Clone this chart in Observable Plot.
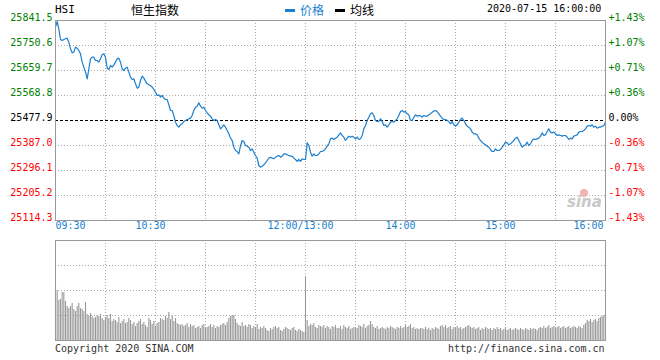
<!DOCTYPE html>
<html><head><meta charset="utf-8">
<script src="https://cdn.jsdelivr.net/npm/d3@7"></script>
<script src="https://cdn.jsdelivr.net/npm/@observablehq/plot@0.6"></script>
<style>
body{margin:0;background:#fff;}
#wrap{position:relative;width:660px;height:360px;overflow:hidden;background:#fff;}
#wrap svg{position:absolute;left:0;}
.t{position:absolute;white-space:nowrap;font-family:'DejaVu Sans Mono',monospace;font-size:10px;line-height:12px;}
.cjk{font-family:'Noto Sans CJK SC',sans-serif;font-size:12px;line-height:14px;}
.bar{position:absolute;width:10px;height:3px;}
</style></head><body><div id="wrap"></div>
<script>
// ---- data ----
const prevClose = 25477.9;
const yTicks = [25114.3, 25205.2, 25296.1, 25387.0, 25477.9, 25568.8, 25659.7, 25750.6, 25841.5];
const pctLabels = ["-1.43%", "-1.07%", "-0.71%", "-0.36%", "0.00%", "+0.36%", "+0.71%", "+1.07%", "+1.43%"];
const gridMinutes = [30, 60, 90, 120, 150, 180, 210, 240, 270, 300];
const xTickMinutes = [0, 60, 150, 210, 270, 330];
const xTickLabels = ["09:30", "10:30", "12:00/13:00", "14:00", "15:00", "16:00"];
// price per trading minute from 09:30 (index 0) to 16:00 (index 330), lunch break skipped
const prices = [
25817.3,25837.9,25811.2,25772.4,25768.8,25772.4,25774.9,25777.3,25762.7,25738.5,
25724.0,25726.4,25744.6,25740.9,25732.4,25720.3,25690.0,25671.8,25653.7,25629.4,
25665.8,25702.1,25708.2,25708.2,25696.1,25696.1,25690.0,25702.1,25716.7,25720.3,
25708.2,25668.2,25663.4,25677.9,25671.8,25680.3,25690.0,25702.1,25704.6,25690.0,
25665.8,25659.7,25668.2,25671.8,25653.7,25635.5,25627.0,25629.4,25611.2,25595.5,
25599.1,25623.4,25639.1,25631.9,25620.9,25611.2,25607.6,25605.2,25599.1,25590.6,
25581.0,25568.8,25571.2,25562.8,25568.8,25559.1,25554.3,25554.3,25534.9,25514.3,
25514.3,25496.1,25471.9,25459.7,25453.7,25462.2,25465.8,25474.3,25477.9,25481.6,
25484.0,25486.4,25496.1,25514.3,25526.4,25530.0,25542.2,25530.0,25522.8,25526.4,
25514.3,25505.8,25498.5,25493.7,25484.0,25477.9,25481.6,25477.9,25462.2,25447.6,
25453.7,25462.2,25453.7,25441.6,25429.4,25413.7,25405.2,25380.9,25368.8,25365.2,
25356.7,25386.0,25405.2,25401.6,25387.0,25384.6,25381.0,25368.9,25374.9,25362.8,
25350.7,25341.0,25314.3,25308.3,25311.9,25316.7,25324.0,25332.5,25341.0,25344.6,
25341.0,25338.6,25344.6,25348.3,25350.7,25344.6,25348.3,25356.7,25356.7,25353.1,
25350.7,25348.3,25348.3,25341.0,25336.1,25328.9,25336.1,25328.9,25338.6,25336.1,
25336.1,25396.7,25387.0,25362.8,25348.3,25356.7,25350.7,25350.7,25356.7,25365.2,
25365.2,25368.9,25374.9,25384.6,25393.1,25411.3,25413.7,25408.9,25413.7,25417.3,
25425.8,25433.1,25423.4,25417.3,25405.2,25413.7,25421.0,25417.3,25421.0,25417.3,
25411.3,25417.3,25408.9,25411.3,25423.4,25447.6,25459.8,25478.0,25490.1,25502.2,
25505.8,25496.1,25478.0,25474.3,25474.3,25484.0,25474.3,25459.8,25462.2,25453.7,
25462.2,25471.9,25474.3,25471.9,25478.0,25484.0,25496.1,25510.7,25514.3,25508.2,
25510.7,25502.2,25498.5,25478.0,25478.0,25490.1,25498.5,25493.7,25496.1,25494.9,
25490.0,25496.1,25493.7,25493.7,25498.5,25502.1,25508.2,25511.8,25514.3,25510.6,
25502.1,25493.7,25486.4,25481.5,25481.5,25477.9,25474.3,25465.8,25474.3,25462.1,
25457.3,25462.1,25471.8,25481.5,25486.4,25477.9,25465.8,25457.3,25453.7,25447.6,
25435.5,25429.4,25429.4,25425.8,25413.7,25405.2,25399.1,25393.1,25389.4,25384.6,
25381.0,25372.5,25365.2,25365.2,25374.9,25368.8,25368.8,25372.5,25381.0,25389.4,
25399.1,25396.7,25389.4,25393.1,25399.1,25405.2,25413.7,25417.3,25405.2,25393.1,
25381.0,25387.0,25389.4,25399.1,25387.0,25393.1,25405.2,25411.2,25408.8,25411.2,
25413.7,25420.9,25433.1,25423.4,25425.8,25437.9,25447.6,25435.5,25433.1,25435.5,
25429.4,25423.4,25425.8,25423.4,25420.9,25423.4,25423.4,25417.3,25408.8,25413.7,
25411.2,25420.9,25423.4,25425.8,25435.5,25437.9,25437.9,25441.5,25447.6,25457.3,
25459.7,25457.3,25462.1,25453.7,25457.3,25450.0,25453.7,25453.7,25457.3,25459.7,
25472.0];
// relative volume per minute (panel scale 0-100)
const volumes = [
54,50,40,41,48,48,39,34,32,34,
37,31,29,34,37,32,31,29,38,26,
24,27,24,22,23,25,24,26,22,20,
23,25,22,26,19,21,20,18,23,17,
19,21,17,18,22,20,16,18,14,17,
19,21,16,18,15,13,22,20,16,19,
14,17,18,22,21,20,24,22,28,21,
25,19,22,17,16,15,16,14,15,17,
13,16,14,15,12,13,14,12,15,16,
12,13,14,16,13,15,12,14,13,15,
16,17,15,18,22,24,25,25,21,17,
15,14,18,14,15,13,16,15,12,14,
13,16,11,13,12,14,12,10,9,12,
11,13,14,12,13,10,9,11,13,12,
11,10,12,13,10,9,11,10,9,8,
63,20,14,16,15,17,13,12,15,14,
13,15,12,14,13,11,14,13,15,12,
12,14,11,15,13,12,14,11,12,13,
13,12,15,14,13,16,12,14,15,19,
16,13,12,14,11,12,13,12,11,13,
12,14,13,12,11,13,12,14,12,13,
15,13,14,16,12,13,11,12,11,12,
12,11,13,11,12,10,12,11,13,12,
11,14,15,13,15,12,13,14,11,13,
12,14,12,13,11,12,13,14,15,13,
12,13,11,12,13,10,12,11,13,12,
11,12,10,12,11,13,11,12,10,11,
12,10,11,12,10,11,12,11,10,12,
11,10,12,11,10,12,11,12,11,10,
12,13,12,14,12,13,15,12,13,14,
12,13,14,12,13,14,12,13,14,12,
13,14,13,12,14,13,12,15,17,20,
19,21,18,20,21,19,22,23,24,25,
25];

const priceData = prices.map((p, i) => ({m: i, p}));
const volData = volumes.map((v, i) => ({m: i, v}));
const mono = "'DejaVu Sans Mono', monospace";
const BLUE = "#1a7fcf";
const colorOf = d => d > prevClose ? "#008000" : d < prevClose ? "#ff0000" : "#000000";

const main = Plot.plot({
  width: 660, height: 230,
  marginLeft: 55, marginRight: 55, marginTop: 20, marginBottom: 10,
  x: {domain: [0, 330], axis: null},
  y: {domain: [25114.3, 25841.5], axis: null},
  color: {type: "identity"},
  style: {fontFamily: mono, fontSize: "10px", background: "transparent", overflow: "visible"},
  marks: [
    Plot.ruleX(gridMinutes, {stroke: "#aaa", strokeDasharray: "1,2"}),
    Plot.ruleY(yTicks.filter(d => d !== prevClose), {stroke: "#aaa", strokeDasharray: "1,2"}),
    Plot.ruleY([prevClose], {stroke: "#000", strokeDasharray: "3,2"}),
    Plot.line(priceData, {x: "m", y: "p", stroke: BLUE, strokeWidth: 1.2}),
    Plot.frame({stroke: "#999"}),
    Plot.text(yTicks, {y: d => d, text: d => d.toFixed(1), frameAnchor: "left", textAnchor: "end", dx: -3, dy: -3, fill: colorOf}),
    Plot.text(yTicks, {y: d => d, text: (d, i) => pctLabels[i], frameAnchor: "right", textAnchor: "start", dx: 3, dy: -3, fill: colorOf}),
    Plot.text(xTickMinutes.slice(0, 1), {x: d => d, text: () => xTickLabels[0], frameAnchor: "bottom", textAnchor: "start", dy: 8, fill: BLUE}),
    Plot.text(xTickMinutes.slice(1, 5), {x: d => d, text: (d, i) => xTickLabels[i + 1], frameAnchor: "bottom", textAnchor: "middle", dx: -5, dy: 8, fill: BLUE}),
    Plot.text(xTickMinutes.slice(5), {x: d => d, text: () => xTickLabels[5], frameAnchor: "bottom", textAnchor: "end", dx: -2, dy: 8, fill: BLUE})
  ]
});
main.style.top = "0px";

const vol = Plot.plot({
  width: 660, height: 130,
  marginLeft: 55, marginRight: 55, marginTop: 10, marginBottom: 20,
  x: {domain: [0, 330], axis: null},
  y: {domain: [0, 100], axis: null},
  style: {fontFamily: mono, fontSize: "10px", background: "transparent"},
  marks: [
    Plot.ruleX(gridMinutes, {stroke: "#aaa", strokeDasharray: "1,2"}),
    Plot.ruleY([25, 50, 75], {stroke: "#aaa", strokeDasharray: "1,2"}),
    Plot.ruleX(volData, {x: "m", y1: 0, y2: "v", stroke: "#999", strokeWidth: 1.1}),
    Plot.frame({stroke: "#999"})
  ]
});
vol.style.top = "230px";

const wrap = document.getElementById("wrap");
wrap.appendChild(main);
wrap.appendChild(vol);
wrap.insertAdjacentHTML("beforeend", `
  <div class="t" style="left:55px;top:4px;font-size:11px;">HSI</div>
  <div class="t cjk" style="left:131px;top:3px;">恒生指数</div>
  <div class="bar" style="left:285px;top:9px;background:${BLUE};"></div>
  <div class="t cjk" style="left:300px;top:3px;color:${BLUE};">价格</div>
  <div class="bar" style="left:335px;top:9px;background:#000;"></div>
  <div class="t cjk" style="left:350px;top:3px;">均线</div>
  <div class="t" style="left:487px;top:3px;">2020-07-15 16:00:00</div>
  <div class="t" style="left:55px;top:343px;color:#333;">Copyright 2020 SINA.COM</div>
  <div class="t" style="left:448px;top:343px;color:#333;">http://finance.sina.com.cn</div>
  <div class="t" style="left:567px;top:193px;font-family:'DejaVu Sans',sans-serif;font-weight:bold;font-style:italic;font-size:15px;line-height:18px;color:#c8c8c8;">sina</div>
  <div style="position:absolute;left:580px;top:189px;width:8px;height:8px;border-radius:50%;background:#f0b4b4;"></div>
`);
</script>
</body></html>
